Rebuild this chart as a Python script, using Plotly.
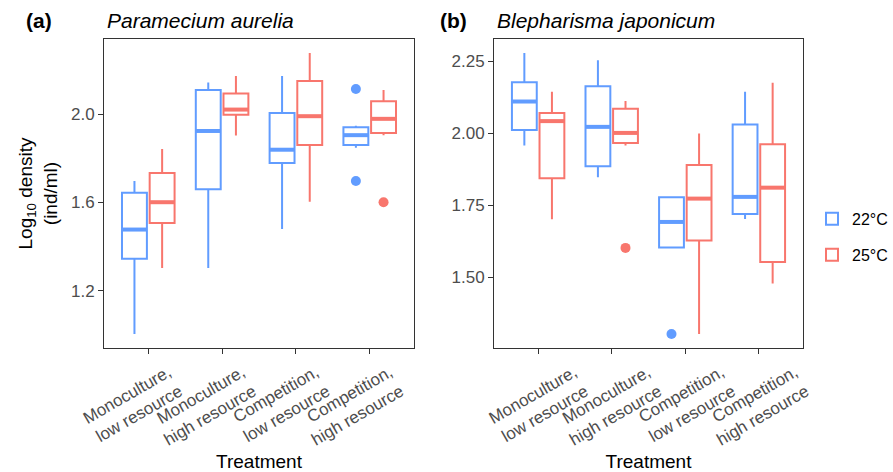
import plotly.graph_objects as go

# ---------------- data ----------------
categories = ["Monoculture,<br>low resource", "Monoculture,<br>high resource",
              "Competition,<br>low resource", "Competition,<br>high resource"]
positions = [1, 2, 3, 4]
temps = ["22°C", "25°C"]

# Paramecium aurelia (panel a)
pa_22_low = [1.004, 1.303, 1.479, 1.848]
pa_22_q1 = [1.345, 1.660, 1.779, 1.860]
pa_22_med = [1.477, 1.924, 1.839, 1.905]
pa_22_q3 = [1.644, 2.110, 2.006, 1.941]
pa_22_high = [1.697, 2.144, 2.173, 1.948]
pa_22_out_x = [4, 4]
pa_22_out_y = [2.114, 1.697]

pa_25_low = [1.303, 1.903, 1.603, 1.905]
pa_25_q1 = [1.507, 1.998, 1.860, 1.915]
pa_25_med = [1.601, 2.021, 1.991, 1.979]
pa_25_q3 = [1.733, 2.094, 2.151, 2.059]
pa_25_high = [1.842, 2.173, 2.277, 2.110]
pa_25_out_x = [4]
pa_25_out_y = [1.601]

# Blepharisma japonicum (panel b)
bj_22_low = [1.957, 1.847, 1.603, 1.702]
bj_22_q1 = [2.011, 1.885, 1.603, 1.720]
bj_22_med = [2.110, 2.022, 1.692, 1.779]
bj_22_q3 = [2.177, 2.163, 1.778, 2.030]
bj_22_high = [2.278, 2.253, 1.778, 2.144]
bj_22_out_x = [3]
bj_22_out_y = [1.303]

bj_25_low = [1.701, 1.957, 1.303, 1.478]
bj_25_q1 = [1.844, 1.966, 1.628, 1.553]
bj_25_med = [2.042, 2.001, 1.773, 1.811]
bj_25_q3 = [2.070, 2.085, 1.890, 1.962]
bj_25_high = [2.144, 2.112, 1.999, 2.175]
bj_25_out_x = [2]
bj_25_out_y = [1.602]

colors = {"22°C": "#619CFF", "25°C": "#F8766D"}
BOXGAP = 0.25
GROUPGAP = 0.1
offset = {"22°C": -(1 - BOXGAP) / 4, "25°C": (1 - BOXGAP) / 4}
halfw = (1 - BOXGAP) * (1 - GROUPGAP) / 4

FONT = "Liberation Sans, Arial, Helvetica, sans-serif"

fig = go.Figure()

panels = [
    ("x", "y", {"22°C": (pa_22_low, pa_22_q1, pa_22_med, pa_22_q3, pa_22_high, pa_22_out_x, pa_22_out_y),
                "25°C": (pa_25_low, pa_25_q1, pa_25_med, pa_25_q3, pa_25_high, pa_25_out_x, pa_25_out_y)}),
    ("x2", "y2", {"22°C": (bj_22_low, bj_22_q1, bj_22_med, bj_22_q3, bj_22_high, bj_22_out_x, bj_22_out_y),
                  "25°C": (bj_25_low, bj_25_q1, bj_25_med, bj_25_q3, bj_25_high, bj_25_out_x, bj_25_out_y)}),
]

for pi, (xa, ya, series) in enumerate(panels):
    for t in temps:
        low, q1, med, q3, high, ox, oy = series[t]
        c = colors[t]
        fig.add_trace(go.Box(
            x=positions, q1=q1, median=med, q3=q3, lowerfence=low, upperfence=high,
            name=t, legendgroup=t, showlegend=(pi == 1),
            line=dict(color=c, width=2), fillcolor="white",
            whiskerwidth=0, boxpoints=False, hoverinfo="skip",
            xaxis=xa, yaxis=ya, offsetgroup=t,
        ))
    for t in temps:
        low, q1, med, q3, high, ox, oy = series[t]
        c = colors[t]
        mx, my = [], []
        for p, m in zip(positions, med):
            cx = p + offset[t]
            mx += [cx - halfw, cx + halfw, None]
            my += [m, m, None]
        fig.add_trace(go.Scatter(x=mx, y=my, mode="lines", line=dict(color=c, width=4),
                                 showlegend=False, hoverinfo="skip", xaxis=xa, yaxis=ya))
        fig.add_trace(go.Scatter(x=[v + offset[t] for v in ox], y=oy, mode="markers",
                                 marker=dict(color=c, size=10, line=dict(width=0)),
                                 showlegend=False, hoverinfo="skip", xaxis=xa, yaxis=ya))

W, H = 893, 472
def px_x(v):
    return v / W
def px_y(v):
    return 1 - v / H

top, bottom = 39, 348
axis_common = dict(showline=True, linecolor="#333333", linewidth=1, mirror=True,
                   ticks="outside", ticklen=5, tickcolor="#333333", tickwidth=1,
                   showgrid=False, zeroline=False, automargin=False,
                   tickfont=dict(family=FONT, size=17, color="#4D4D4D"))

xaxis_common = dict(axis_common, tickmode="array", tickvals=positions, ticktext=categories,
                    tickangle=-30, range=[0.4, 4.6], ticklabelstandoff=2,
                    title=dict(text="Treatment", font=dict(family=FONT, size=19, color="black"), standoff=8))

fig.update_layout(
    width=W, height=H,
    margin=dict(l=0, r=0, t=0, b=0),
    plot_bgcolor="white", paper_bgcolor="white",
    boxmode="group", boxgap=BOXGAP, boxgroupgap=GROUPGAP,
    xaxis=dict(xaxis_common, domain=[px_x(104), px_x(414)], anchor="y", ticklabelshift=20),
    xaxis2=dict(xaxis_common, domain=[px_x(494), px_x(803)], anchor="y2", ticklabelshift=36),
    yaxis=dict(axis_common, domain=[px_y(bottom), px_y(top)], anchor="x",
               range=[0.940, 2.341], tickvals=[1.2, 1.6, 2.0], ticktext=["1.2", "1.6", "2.0"],
               title=dict(text="Log<sub>10</sub> density<br>(ind/ml)",
                          font=dict(family=FONT, size=19, color="black"), standoff=8)),
    yaxis2=dict(axis_common, domain=[px_y(bottom), px_y(top)], anchor="x2",
                range=[1.2545, 2.327], tickvals=[1.5, 1.75, 2.0, 2.25],
                ticktext=["1.50", "1.75", "2.00", "2.25"]),
    legend=dict(x=px_x(812), y=0.498, xanchor="left", yanchor="middle",
                font=dict(family=FONT, size=16, color="black"),
                bgcolor="rgba(0,0,0,0)", tracegroupgap=12),
    annotations=[
        dict(text="<b>(a)</b>", x=px_x(24), y=px_y(20), xref="paper", yref="paper",
             xanchor="left", yanchor="middle", showarrow=False,
             font=dict(family=FONT, size=21, color="black")),
        dict(text="<i>Paramecium aurelia</i>", x=px_x(105), y=px_y(20), xref="paper", yref="paper",
             xanchor="left", yanchor="middle", showarrow=False,
             font=dict(family=FONT, size=21, color="black")),
        dict(text="<b>(b)</b>", x=px_x(438), y=px_y(20), xref="paper", yref="paper",
             xanchor="left", yanchor="middle", showarrow=False,
             font=dict(family=FONT, size=21, color="black")),
        dict(text="<i>Blepharisma japonicum</i>", x=px_x(495), y=px_y(20), xref="paper", yref="paper",
             xanchor="left", yanchor="middle", showarrow=False,
             font=dict(family=FONT, size=21, color="black")),
    ],
)

fig.write_html("out.html", config={"displayModeBar": False},
               post_script="document.body.style.margin='0px';")
